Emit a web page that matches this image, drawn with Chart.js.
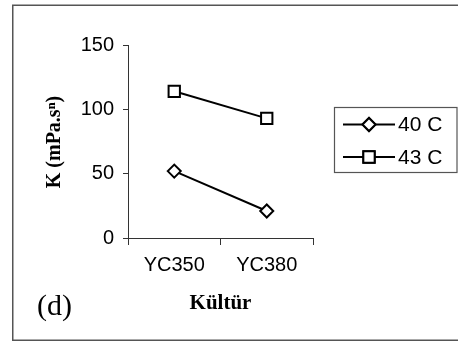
<!DOCTYPE html>
<html>
<head>
<meta charset="utf-8">
<script src="https://cdn.jsdelivr.net/npm/chart.js@4/dist/chart.umd.min.js"></script>
<style>
  html, body { margin: 0; padding: 0; background: #ffffff; }
  #wrap { width: 458px; height: 342px; position: relative; }
</style>
</head>
<body>
<div id="wrap"><canvas id="c" width="458" height="342"></canvas></div>
<script>
// ---- data ----
const categories = ["YC350", "YC380"];
const seriesLabels = ["40 C", "43 C"];
const values40C = [52, 21];
const values43C = [114, 93];
const yTicks = [0, 50, 100, 150];
const xTitle = "Kültür";
const yTitle = "K (mPa.sⁿ)";
const panelLabel = "(d)";

const sansFont = "'Liberation Sans', Arial, sans-serif";
const serifFont = "'Liberation Serif', 'Times New Roman', serif";

const decorPlugin = {
  id: 'decor',
  beforeDraw(chart) {
    const ctx = chart.ctx;
    ctx.save();
    ctx.fillStyle = '#ffffff';
    ctx.fillRect(0, 0, chart.width, chart.height);
    ctx.strokeStyle = '#555555';
    ctx.lineWidth = 1.5;
    ctx.strokeRect(12.75, 5.25, 470, 335);
    ctx.restore();
  },
  afterDraw(chart) {
    const ctx = chart.ctx;
    const xs = chart.scales.x, ys = chart.scales.y;
    ctx.save();
    ctx.fillStyle = '#000';
    // Y title
    ctx.font = "bold 20px " + serifFont;
    ctx.textAlign = 'center';
    ctx.textBaseline = 'middle';
    ctx.translate(55, 142);
    ctx.rotate(-Math.PI / 2);
    ctx.fillText(yTitle, 0, 0);
    ctx.restore();
    ctx.save();
    ctx.fillStyle = '#000';
    ctx.font = "bold 21px " + serifFont;
    ctx.textAlign = 'center';
    ctx.textBaseline = 'middle';
    ctx.fillText(xTitle, (xs.left + xs.right) / 2, 304);
    ctx.font = "30px " + serifFont;
    ctx.textAlign = 'left';
    ctx.fillText(panelLabel, 37, 307);
    // legend
    const lx = 334, ly = 107, lw = 124, lh = 65;
    ctx.strokeStyle = '#555555';
    ctx.lineWidth = 1.2;
    ctx.strokeRect(lx + 0.5, ly + 0.5, lw - 1.5, lh);
    const rows = [124.5, 157];
    chart.data.datasets.forEach((ds, i) => {
      const y = rows[i];
      ctx.strokeStyle = '#000';
      ctx.lineWidth = 2;
      ctx.beginPath();
      ctx.moveTo(343, y);
      ctx.lineTo(395, y);
      ctx.stroke();
      Chart.helpers.drawPoint(ctx, {
        pointStyle: ds.pointStyle,
        radius: ds.pointRadius,
        borderWidth: 2
      }, 369, y);
      ctx.fillStyle = '#ffffff';
      ctx.fill();
      ctx.stroke();
      ctx.fillStyle = '#000';
      ctx.font = "21px " + sansFont;
      ctx.textAlign = 'left';
      ctx.textBaseline = 'middle';
      ctx.fillText(ds.label, 398, y + 1);
    });
    ctx.restore();
  }
};

new Chart(document.getElementById('c'), {
  type: 'line',
  data: {
    labels: categories,
    datasets: [
      {
        label: seriesLabels[0],
        data: values40C,
        borderColor: '#000',
        borderWidth: 2,
        pointStyle: 'rectRot',
        pointRadius: 6.5,
        pointBorderWidth: 2,
        pointBackgroundColor: '#ffffff',
        pointBorderColor: '#000',
        tension: 0
      },
      {
        label: seriesLabels[1],
        data: values43C,
        borderColor: '#000',
        borderWidth: 2,
        pointStyle: 'rect',
        pointRadius: 8,
        pointBorderWidth: 2,
        pointBackgroundColor: '#ffffff',
        pointBorderColor: '#000',
        tension: 0
      }
    ]
  },
  options: {
    responsive: false,
    animation: false,
    devicePixelRatio: 1,
    layout: { padding: { left: 0, top: 45, right: 145, bottom: 0 } },
    plugins: { legend: { display: false }, tooltip: { enabled: false }, title: { display: false } },
    scales: {
      x: {
        type: 'category',
        offset: true,
        grid: { offset: true, drawOnChartArea: false, drawTicks: true, tickLength: 7, color: '#333', lineWidth: 1 },
        border: { display: true, color: '#333', width: 1 },
        ticks: { color: '#000', font: { family: sansFont, size: 20 }, padding: 8, maxRotation: 0 },
        afterFit(scale) { scale.height = 104; }
      },
      y: {
        min: 0, max: 150,
        afterBuildTicks(scale) { scale.ticks = yTicks.map(v => ({ value: v })); },
        grid: { drawOnChartArea: false, drawTicks: true, tickLength: 5, color: '#333', lineWidth: 1 },
        border: { display: true, color: '#333', width: 1 },
        ticks: { color: '#000', font: { family: sansFont, size: 20 }, padding: 9 },
        afterFit(scale) { scale.width = 128; }
      }
    }
  },
  plugins: [decorPlugin]
});
</script>
</body>
</html>
